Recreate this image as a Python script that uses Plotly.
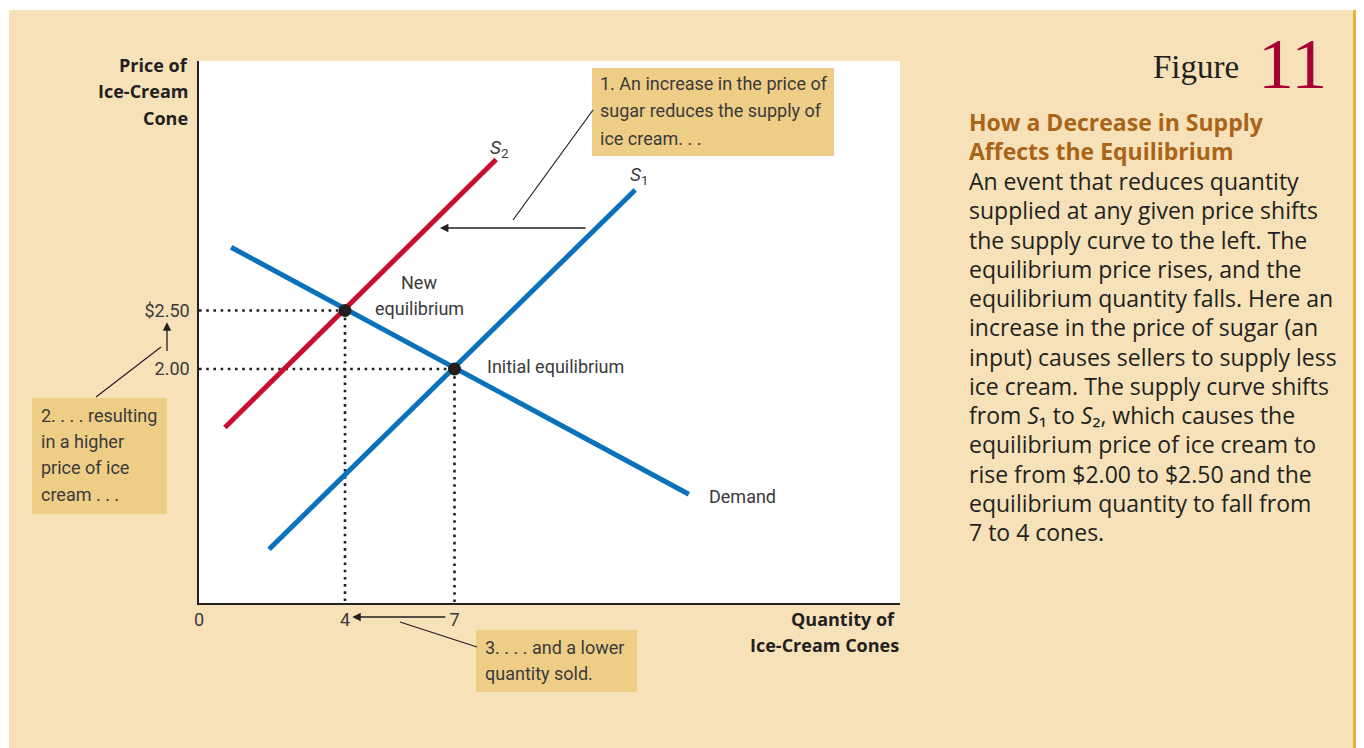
import plotly.graph_objects as go

# ---------------- data ----------------
demand_q = [0.88, 13.42]
demand_p = [3.04, 0.93]
s1_q = [1.92, 11.95]
s1_p = [0.46, 3.53]
s2_q = [0.71, 8.14]
s2_p = [1.50, 3.79]
eq_q = [4, 7]
eq_p = [2.50, 2.00]
x_tickvals = [0, 4, 7]
x_ticktext = ["0", "4", "7"]
y_tickvals = [2.00, 2.50]
y_ticktext = ["2.00", "$2.50"]
shift_from_q = 10.63
shift_to_q = 6.60
shift_p = 3.205

BEIGE = "#f6e1b8"
BOX = "#eecd87"
GOLD = "#e3b33c"
BLUE = "#0a72ba"
RED = "#c8102e"
INK = "#231f20"
NARROW = "Liberation Sans Narrow, Arial Narrow, Roboto, sans-serif"
SANS = "Open Sans, Noto Sans, sans-serif"

# page body has an 8px margin; figure sits at (8, 8)
OFF = 8
# plot area in screen pixels: x 199..900, y 61..603
L, R, T, B = 199, 900, 61, 603
W, H = 1364 - OFF, 748 - OFF


def px(x):
    return (x - L) / (R - L)


def py(y):
    return (B - y) / (B - T)


fig = go.Figure()

# dotted guides from equilibrium points
for q, p in zip(eq_q, eq_p):
    fig.add_trace(go.Scatter(x=[0, q], y=[p, p], mode="lines",
                             line=dict(color=INK, width=2.6, dash="2.6px,4.6px"),
                             hoverinfo="skip", showlegend=False))
    fig.add_trace(go.Scatter(x=[q, q], y=[p, 0], mode="lines",
                             line=dict(color=INK, width=2.6, dash="2.6px,4.6px"),
                             hoverinfo="skip", showlegend=False))

fig.add_trace(go.Scatter(x=demand_q, y=demand_p, mode="lines",
                         line=dict(color=BLUE, width=5), showlegend=False))
fig.add_trace(go.Scatter(x=s1_q, y=s1_p, mode="lines",
                         line=dict(color=BLUE, width=5), showlegend=False))
fig.add_trace(go.Scatter(x=s2_q, y=s2_p, mode="lines",
                         line=dict(color=RED, width=5), showlegend=False))
fig.add_trace(go.Scatter(x=eq_q, y=eq_p, mode="markers",
                         marker=dict(color=INK, size=13), showlegend=False))

shapes = []
# outer white margins and gold stripe
shapes.append(dict(type="rect", xref="paper", yref="paper", layer="above",
                   x0=px(-5), x1=px(1370), y0=py(10), y1=py(-5),
                   fillcolor="white", line=dict(width=0)))
shapes.append(dict(type="rect", xref="paper", yref="paper", layer="above",
                   x0=px(-5), x1=px(9), y0=py(755), y1=py(10),
                   fillcolor="white", line=dict(width=0)))
shapes.append(dict(type="rect", xref="paper", yref="paper", layer="above",
                   x0=px(1353), x1=px(1370), y0=py(755), y1=py(10),
                   fillcolor=GOLD, line=dict(width=0)))
# callout boxes
for (x0, y0, x1, y1) in [(592, 68, 834, 156), (32, 398, 167, 514), (476, 630, 637, 692)]:
    shapes.append(dict(type="rect", xref="paper", yref="paper", layer="above",
                       x0=px(x0), x1=px(x1), y0=py(y1), y1=py(y0),
                       fillcolor=BOX, line=dict(width=0)))
# leader lines
for (x0, y0, x1, y1) in [(513, 220, 593, 110), (161, 347, 96, 397), (400, 622, 477, 647)]:
    shapes.append(dict(type="line", xref="paper", yref="paper", layer="above",
                       x0=px(x0), y0=py(y0), x1=px(x1), y1=py(y1),
                       line=dict(color=INK, width=1.2)))

ann = []
# arrows
ann.append(dict(xref="x", yref="y", axref="x", ayref="y",
                x=shift_to_q, y=shift_p, ax=shift_from_q, ay=shift_p,
                text="", showarrow=True, arrowhead=2, arrowsize=1.3,
                arrowwidth=1.3, arrowcolor=INK))
ann.append(dict(xref="x", yref="paper", axref="x", ayref="pixel",
                x=4.2, y=py(617), ax=6.79, ay=0,
                text="", showarrow=True, arrowhead=2, arrowsize=1.3,
                arrowwidth=1.3, arrowcolor=INK))
ann.append(dict(xref="paper", yref="y", axref="pixel", ayref="y",
                x=px(167), y=2.40, ax=0, ay=2.14,
                text="", showarrow=True, arrowhead=2, arrowsize=1.3,
                arrowwidth=1.3, arrowcolor=INK))


def txt(x, y, s, size=17, color="#3a3a3a", family=NARROW, anchor="left"):
    ann.append(dict(xref="paper", yref="paper", x=px(x), y=py(y), text=s,
                    showarrow=False, xanchor=anchor, yanchor="middle",
                    font=dict(size=size, color=color, family=family)))


# callout texts
for i, s in enumerate(["1. An increase in the price of", "sugar reduces the supply of",
                       "ice cream. . ."]):
    txt(598, 84 + i * 27, s, size=18)
for i, s in enumerate(["2. . . . resulting", "in a higher", "price of ice", "cream . . ."]):
    txt(39, 415 + i * 26.4, s, size=18)
for i, s in enumerate(["3. . . . and a lower", "quantity sold."]):
    txt(483, 647 + i * 26, s, size=18)

# chart labels
txt(488, 148, "<i>S</i><sub>2</sub>", size=19)
txt(628, 175, "<i>S</i><sub>1</sub>", size=19)
txt(419, 282, "New", size=18, anchor="center")
txt(419, 308, "equilibrium", size=18, anchor="center")
txt(485, 366, "Initial equilibrium", size=18)
txt(707, 496, "Demand", size=18)

# axis titles
for i, s in enumerate(["Price of", "Ice-Cream", "Cone"]):
    txt(190, 65 + i * 26.5, "<b>" + s + "</b>", size=18, color=INK, family=SANS, anchor="right")
for i, s in enumerate(["Quantity of ", "Ice-Cream Cones"]):
    txt(901, 619 + i * 26, "<b>" + s + "</b>", size=18, color=INK, family=SANS, anchor="right")

# right panel
txt(1241, 67, "Figure", size=33, color=INK, family="Liberation Serif, serif", anchor="right")
txt(1256, 64, "11", size=72, color="#a50034", family="Liberation Serif, serif")
txt(967, 122, "<b>How a Decrease in Supply</b>", size=23, color="#aa6418", family=SANS)
txt(967, 151, "<b>Affects the Equilibrium</b>", size=23, color="#aa6418", family=SANS)
body = [
    "An event that reduces quantity",
    "supplied at any given price shifts",
    "the supply curve to the left. The",
    "equilibrium price rises, and the",
    "equilibrium quantity falls. Here an",
    "increase in the price of sugar (an",
    "input) causes sellers to supply less",
    "ice cream. The supply curve shifts",
    "from <i>S</i>\u2081 to <i>S</i>\u2082, which causes the",
    "equilibrium price of ice cream to",
    "rise from $2.00 to $2.50 and the",
    "equilibrium quantity to fall from",
    "7 to 4 cones.",
]
for i, s in enumerate(body):
    txt(967, 181 + i * 29.25, s, size=23, color=INK, family=SANS)

fig.update_layout(
    width=W, height=H,
    margin=dict(l=L - OFF, r=W - (R - OFF), t=T - OFF, b=H - (B - OFF), pad=0),
    paper_bgcolor=BEIGE, plot_bgcolor="white",
    shapes=shapes, annotations=ann,
    xaxis=dict(range=[0, (R - L) / 36.5], showgrid=False, zeroline=False,
               showline=True, linecolor=INK, linewidth=1.5,
               tickvals=x_tickvals, ticktext=x_ticktext, ticks="",
               tickfont=dict(size=18, color="#3a3a3a", family=NARROW),
               ticklabelstandoff=0, fixedrange=True),
    yaxis=dict(range=[0, (B - T) / 117.0], showgrid=False, zeroline=False,
               showline=True, linecolor=INK, linewidth=1.5,
               tickvals=y_tickvals, ticktext=y_ticktext, ticks="",
               tickfont=dict(size=18, color="#3a3a3a", family=NARROW),
               ticklabelstandoff=4, fixedrange=True),
    showlegend=False,
)

fig.write_html("out.html")
